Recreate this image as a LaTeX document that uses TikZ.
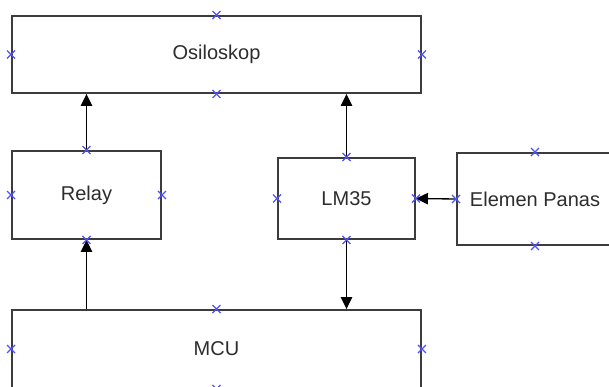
\documentclass[tikz,border=0pt]{standalone}
\usepackage{fontspec}
\setmainfont{Liberation Sans}
\usetikzlibrary{arrows.meta}
\definecolor{mark}{RGB}{80,80,255}
\definecolor{ink}{RGB}{45,45,45}
\definecolor{edge}{RGB}{60,60,60}
\tikzset{
  blk/.style={draw=edge, line width=1.4pt, fill=white, inner sep=0pt, text=ink,
    font=\fontsize{15pt}{18pt}\selectfont},
  conn/.style={draw=black, line width=1pt, -{Triangle[length=9pt,width=8.5pt]}},
  xmk/.style={draw=mark, line width=0.9pt}
}
\begin{document}
\begin{tikzpicture}[x=0.75pt,y=-0.75pt]
\useasboundingbox (0,0) rectangle (609,386);
\node[blk, minimum width=409*0.75pt, minimum height=77*0.75pt] (osc) at (216.5,54.5) {Osiloskop};
\node[blk, minimum width=149*0.75pt, minimum height=88*0.75pt] (relay) at (86.5,195) {Relay};
\node[blk, minimum width=137*0.75pt, minimum height=81*0.75pt] (lm) at (346.5,198.5) {LM35};
\node[blk, minimum width=156*0.75pt, minimum height=92*0.75pt] (el) at (535,199) {Elemen Panas};
\node[blk, minimum width=409*0.75pt, minimum height=78*0.75pt] (mcu) at (216.5,349) {MCU};
\draw[conn] (relay.north) -- (relay.north |- osc.south);
\draw[conn] (lm.north) -- (lm.north |- osc.south);
\draw[conn] (relay.south |- mcu.north) -- (relay.south);
\draw[conn] (lm.south) -- (lm.south |- mcu.north);
\draw[conn] (el.west) -- (lm.east);
\foreach \n in {osc,relay,lm,el,mcu}{
  \foreach \a in {north,south,east,west}{
    \draw[xmk] (\n.\a) +(-4,-4) -- +(4,4) +(-4,4) -- +(4,-4);
  }
}
\end{tikzpicture}
\end{document}
